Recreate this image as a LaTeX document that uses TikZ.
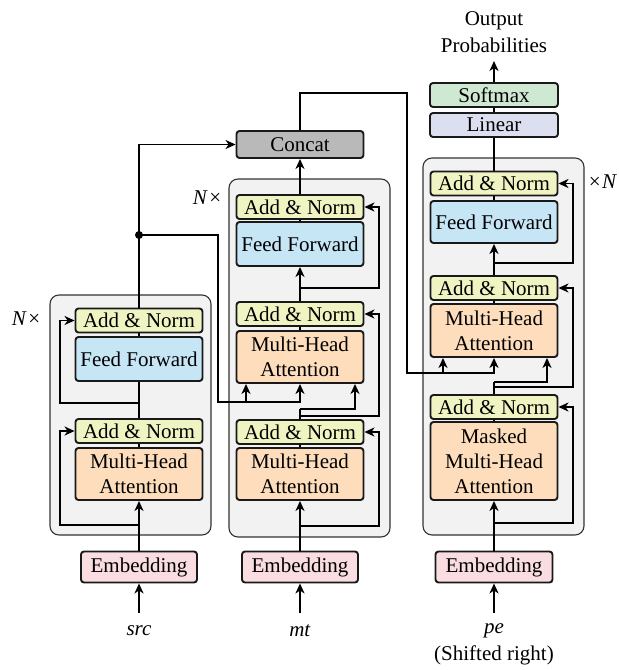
\documentclass[tikz,border=0pt]{standalone}
\usepackage{fontspec}
\setmainfont{Liberation Serif}
\usetikzlibrary{arrows.meta}
\definecolor{an}{HTML}{F0F4C3}
\definecolor{ffc}{HTML}{C6E6F6}
\definecolor{mha}{HTML}{FDDDBB}
\definecolor{emb}{HTML}{FADDE1}
\definecolor{cc}{HTML}{B9B9B9}
\definecolor{smc}{HTML}{CFE8D2}
\definecolor{linc}{HTML}{DCDFF0}
\definecolor{bgc}{HTML}{F2F2F2}
\begin{document}
\begin{tikzpicture}[x=1pt,y=-1pt,
  txt/.style={font=\fontsize{21}{25}\selectfont},
  box/.style={txt, draw=black!90, line width=1.9pt, rounded corners=3pt, minimum width=127pt, inner sep=0pt, align=center},
  addnorm/.style={box, fill=an, minimum height=24pt},
  ffbox/.style={box, fill=ffc, minimum height=44pt},
  mhabox/.style={box, fill=mha, minimum height=52pt},
  embbox/.style={box, fill=emb, minimum width=116pt, minimum height=31pt},
  outerbox/.style={draw=black!80, fill=bgc, line width=1.1pt, rounded corners=9pt},
  conn/.style={line width=1.8pt},
  arr/.style={conn, -{Stealth[length=10pt,width=9pt,inset=3pt]}},
]
\useasboundingbox (0,0) rectangle (619,670);

% outer blocks
\draw[outerbox] (50,295) rectangle (211,535);
\draw[outerbox] (229,179) rectangle (390,537);
\draw[outerbox] (423,158) rectangle (584,535);

% ---- left encoder (src) ----
\node[embbox] (lemb) at (139,567) {Embedding};
\node[mhabox] (lmha) at (139,474) {Multi-Head\\Attention};
\node[addnorm] (lan1) at (139,431) {Add \& Norm};
\node[ffbox] (lff) at (139,359) {Feed Forward};
\node[addnorm] (lan2) at (139,320.5) {Add \& Norm};

% ---- middle encoder (mt) ----
\node[embbox] (memb) at (300,567) {Embedding};
\node[mhabox] (mmha1) at (300,474) {Multi-Head\\Attention};
\node[addnorm] (man1) at (300,432) {Add \& Norm};
\node[mhabox] (mmha2) at (300,357) {Multi-Head\\Attention};
\node[addnorm] (man2) at (300,314) {Add \& Norm};
\node[ffbox] (mff) at (300,244) {Feed Forward};
\node[addnorm] (man3) at (300,207) {Add \& Norm};
\node[box, fill=cc, minimum height=27pt] (concat) at (300,144.5) {Concat};

% ---- right decoder (pe) ----
\node[embbox, minimum width=117pt] (remb) at (494,567) {Embedding};
\node[box, fill=mha, minimum height=78pt] (rmmha) at (494,461) {Masked\\Multi-Head\\Attention};
\node[addnorm] (ran1) at (494,407) {Add \& Norm};
\node[box, fill=mha, minimum height=53pt] (rmha2) at (494,330.5) {Multi-Head\\Attention};
\node[addnorm] (ran2) at (494,288) {Add \& Norm};
\node[ffbox, minimum height=42pt] (rff) at (494,222) {Feed Forward};
\node[addnorm] (ran3) at (494,183.5) {Add \& Norm};
\node[box, fill=linc, minimum width=128pt, minimum height=24pt] (linear) at (494,125) {Linear};
\node[box, fill=smc, minimum width=128pt, minimum height=24pt] (softmax) at (494,95) {Softmax};

% labels
\node[txt, align=center, anchor=south, inner sep=0pt, font=\fontsize{21}{27}\selectfont] (out) at (494,53) {Output\\Probabilities};
\coordinate (outp) at (494,61);
\node[txt] (src) at (139,631) {\textit{src}};
\node[txt] (mt) at (300,631) {\textit{mt}};
\node[txt] (pe) at (494,631) {\textit{pe}};
\node[txt] (shift) at (494,655) {(Shifted right)};
\node[txt] (nl) at (26,319) {\textit{N}\kern1.5pt×};
\node[txt] (nm) at (207,198) {\textit{N}\kern1.5pt×};
\node[txt] (nr) at (603,182) {×\kern1.5pt\textit{N}};

\coordinate (lin) at (139,613);
\coordinate (min) at (300,613);
\coordinate (rin) at (494,613);

% ---- left connections ----
\coordinate (lbusL) at (60,0);
\coordinate (lr1) at (139,525);
\coordinate (lr2) at (139,403);
\coordinate (split) at (139,235);
\draw[arr] (lin) -- (lemb.south);
\draw[arr] (lemb.north) -- (lmha.south);
\draw[conn] (lmha.north) -- (lan1.south);
\draw[conn] (lan1.north) -- (lff.south);
\draw[conn] (lff.north) -- (lan2.south);
\draw[arr] (lr1) -- (lr1-|lbusL) -- (lbusL|-lan1.west) -- (lan1.west);
\draw[arr] (lr2) -- (lr2-|lbusL) -- (lbusL|-lan2.west) -- (lan2.west);
\draw[arr] (lan2.north) |- (concat.west);
\fill (split) circle (4pt);

% ---- middle connections ----
\coordinate (mbusR) at (379,0);
\coordinate (mr1) at (300,526);
\coordinate (mr2) at (300,416);
\coordinate (mk) at (300,409);
\coordinate (mv3) at (355,409);
\coordinate (mr3) at (300,288);
\coordinate (ebus) at (218,402);
\coordinate (mq1) at (246,402);
\draw[arr] (min) -- (memb.south);
\draw[arr] (memb.north) -- (mmha1.south);
\draw[conn] (mmha1.north) -- (man1.south);
\draw[arr] (mr1) -- (mr1-|mbusR) -- (mbusR|-man1.east) -- (man1.east);
\draw[conn] (man1.north) -- (mk);
\draw[arr] (mk) -- (mv3) -- (mv3|-mmha2.south);
\draw[arr] (mr2) -- (mr2-|mbusR) -- (mbusR|-man2.east) -- (man2.east);
\draw[arr] (split) -| (ebus) -- (ebus-|mmha2.south) -- (mmha2.south);
\draw[arr] (mq1) -- (mq1|-mmha2.south);
\draw[conn] (mmha2.north) -- (man2.south);
\draw[arr] (man2.north) -- (mff.south);
\draw[arr] (mr3) -- (mr3-|mbusR) -- (mbusR|-man3.east) -- (man3.east);
\draw[conn] (mff.north) -- (man3.south);
\draw[arr] (man3.north) -- (concat.south);

% ---- right connections ----
\coordinate (rbusR) at (573,0);
\coordinate (rr1) at (494,523);
\coordinate (rr2) at (494,387);
\coordinate (rk) at (494,382);
\coordinate (rv3) at (547,382);
\coordinate (rr3) at (494,263);
\coordinate (cup) at (300,93);
\coordinate (cdown) at (407,373);
\coordinate (rq1) at (443,373);
\draw[arr] (rin) -- (remb.south);
\draw[arr] (remb.north) -- (rmmha.south);
\draw[conn] (rmmha.north) -- (ran1.south);
\draw[arr] (rr1) -- (rr1-|rbusR) -- (rbusR|-ran1.east) -- (ran1.east);
\draw[conn] (ran1.north) -- (rk);
\draw[arr] (rk) -- (rv3) -- (rv3|-rmha2.south);
\draw[arr] (rr2) -- (rr2-|rbusR) -- (rbusR|-ran2.east) -- (ran2.east);
\draw[arr] (concat.north) -- (cup) -| (cdown) -- (cdown-|rmha2.south) -- (rmha2.south);
\draw[arr] (rq1) -- (rq1|-rmha2.south);
\draw[conn] (rmha2.north) -- (ran2.south);
\draw[arr] (ran2.north) -- (rff.south);
\draw[arr] (rr3) -- (rr3-|rbusR) -- (rbusR|-ran3.east) -- (ran3.east);
\draw[conn] (rff.north) -- (ran3.south);
\draw[conn] (ran3.north) -- (linear.south);
\draw[conn] (linear.north) -- (softmax.south);
\draw[arr] (softmax.north) -- (outp);
\end{tikzpicture}
\end{document}
